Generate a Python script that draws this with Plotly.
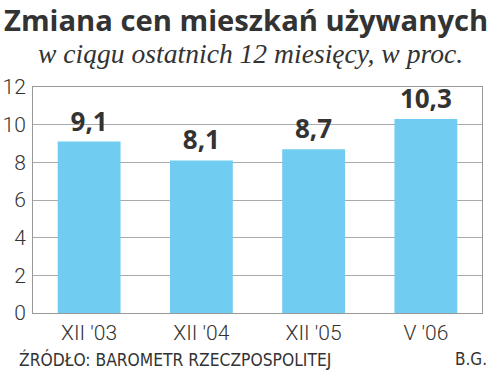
import plotly.graph_objects as go

categories = ["XII '03", "XII '04", "XII '05", "V '06"]
values = [9.1, 8.1, 8.7, 10.3]
value_labels = ["9,1", "8,1", "8,7", "10,3"]
y_ticks = [0, 2, 4, 6, 8, 10, 12]

fig = go.Figure()
fig.add_trace(go.Bar(
    x=categories, y=values,
    marker=dict(color="#70CDF1", line=dict(width=0)),
    width=0.56,
    text=value_labels, textposition="outside",
    textfont=dict(family="Open Sans", size=26, color="#333333", weight="bold"),
    cliponaxis=False,
))

fig.update_layout(
    width=500, height=378,
    margin=dict(l=33, r=18, t=87, b=65),
    paper_bgcolor="white", plot_bgcolor="white",
    showlegend=False,
    bargap=0.44,
    xaxis=dict(
        automargin=False,
        showgrid=False, showline=True, linecolor="#999999", linewidth=1, mirror=True,
        ticks="", tickfont=dict(family="Roboto", size=21, color="#333333", weight=300),
        ticklabelstandoff=1,
    ),
    yaxis=dict(
        automargin=False,
        range=[0, 12], tickvals=y_ticks, showgrid=True, gridcolor="#aaaaaa", gridwidth=1,
        showline=True, linecolor="#999999", linewidth=1, mirror=True, zeroline=False,
        ticks="", tickfont=dict(family="Roboto", size=21, color="#333333", weight=300),
        ticklabelstandoff=2,
    ),
    annotations=[
        dict(text="Zmiana cen mieszkań używanych", xref="paper", yref="paper",
             x=0, xanchor="left", xshift=-31, y=1, yanchor="middle", yshift=67,
             showarrow=False,
             font=dict(family="Open Sans", size=29.2, color="#333333", weight="bold")),
        dict(text="<i>w ciągu ostatnich 12 miesięcy, w proc.</i>", xref="paper", yref="paper",
             x=0, xanchor="left", xshift=3, y=1, yanchor="middle", yshift=34,
             showarrow=False,
             font=dict(family="Liberation Serif", size=27.6, color="#333333")),
        dict(text="ŹRÓDŁO: BAROMETR RZECZPOSPOLITEJ", xref="paper", yref="paper",
             x=0, xanchor="left", xshift=-16, y=0, yanchor="middle", yshift=-46,
             showarrow=False,
             font=dict(family="DejaVu Sans Condensed", size=17.3, color="#333333")),
        dict(text="B.G.", xref="paper", yref="paper",
             x=1, xanchor="right", xshift=7, y=0, yanchor="middle", yshift=-46,
             showarrow=False,
             font=dict(family="DejaVu Sans Condensed", size=17, color="#333333")),
    ],
)

fig.write_html("out.html", config={"displayModeBar": False},
               post_script="document.body.style.margin='0';")
